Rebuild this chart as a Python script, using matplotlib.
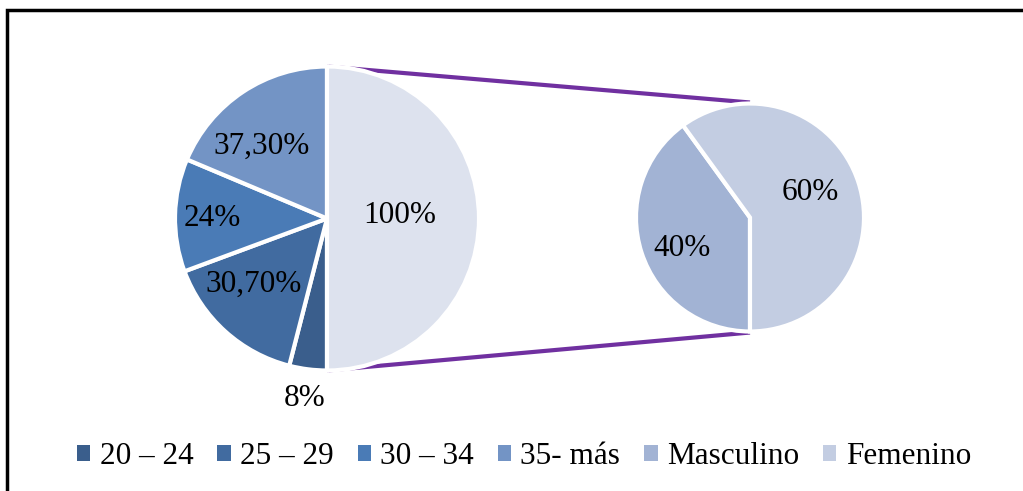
import matplotlib
matplotlib.use('Agg')
import matplotlib.pyplot as plt
from matplotlib.patches import Patch, Rectangle

plt.rcParams['font.family'] = ['Liberation Serif', 'DejaVu Serif']

# data
age_labels = ['20 – 24', '25 – 29', '30 – 34', '35- más']
age_values = [8, 30.7, 24, 37.3]
age_text = ['8%', '30,70%', '24%', '37,30%']
other_value = 100
other_text = '100%'
sex_labels = ['Masculino', 'Femenino']
sex_values = [40, 60]
sex_text = ['40%', '60%']

age_colors = ['#3a5e8c', '#416ba0', '#4a7bb6', '#7394c5']
other_color = '#dde2ee'
sex_colors = ['#a2b3d4', '#c3cde2']
link_color = '#7030a0'

W, H = 1023, 491
fig = plt.figure(figsize=(W / 100, H / 100), dpi=100)
ax = fig.add_axes([0, 0, 1, 1])

# positions in pixels (y up)
c1 = (327, H - 218.5)
r1 = 152
c2 = (750, H - 217.5)
r2 = 114

wp = dict(edgecolor='white', linewidth=3)
w1, _ = ax.pie(age_values + [other_value], colors=age_colors + [other_color],
               startangle=-90, counterclock=False, center=c1, radius=r1,
               wedgeprops=wp, frame=True)
w2, _ = ax.pie(sex_values, colors=sex_colors, startangle=-90, counterclock=False,
               center=c2, radius=r2, wedgeprops=wp, frame=True)
ax.set_xlim(0, W)
ax.set_ylim(0, H)
ax.set_aspect('equal')
ax.axis('off')

# connector lines
ax.plot([c1[0], c2[0]], [c1[1] + r1, c2[1] + r2 + 1], color=link_color, lw=3, zorder=0,
        solid_capstyle='butt')
ax.plot([c1[0], c2[0]], [c1[1] - r1, c2[1] - r2 - 1], color=link_color, lw=3, zorder=0,
        solid_capstyle='butt')

fs = 22.5
# data labels
label_pos = [(305, 399), (254, 284), (212, 218), (262, 146)]
for (x, y), t in zip(label_pos, age_text):
    ax.text(x, H - y, t, ha='center', va='center', fontsize=fs, color='black')
ax.text(400, H - 215, other_text, ha='center', va='center', fontsize=fs, color='black')
for (x, y), t in zip([(682, 248), (810, 192)], sex_text):
    ax.text(x, H - y, t, ha='center', va='center', fontsize=fs, color='black')

# legend
handles = [Patch(facecolor=c, edgecolor='none') for c in age_colors + sex_colors]
fig.legend(handles, age_labels + sex_labels, loc='center', bbox_to_anchor=(524 / W, 1 - 457 / H),
           ncol=6, frameon=False, fontsize=fs, handlelength=0.42, handleheight=0.42,
           handletextpad=0.3, columnspacing=0.77, borderaxespad=0, borderpad=0)

# chart border (extends past the bottom/right edges)
fig.patches.append(Rectangle((7 / W, -0.05), 1.1, 1 - 10 / H + 0.05, transform=fig.transFigure,
                             fill=False, edgecolor='black', linewidth=2.5))

fig.savefig('out.png', dpi=100)
